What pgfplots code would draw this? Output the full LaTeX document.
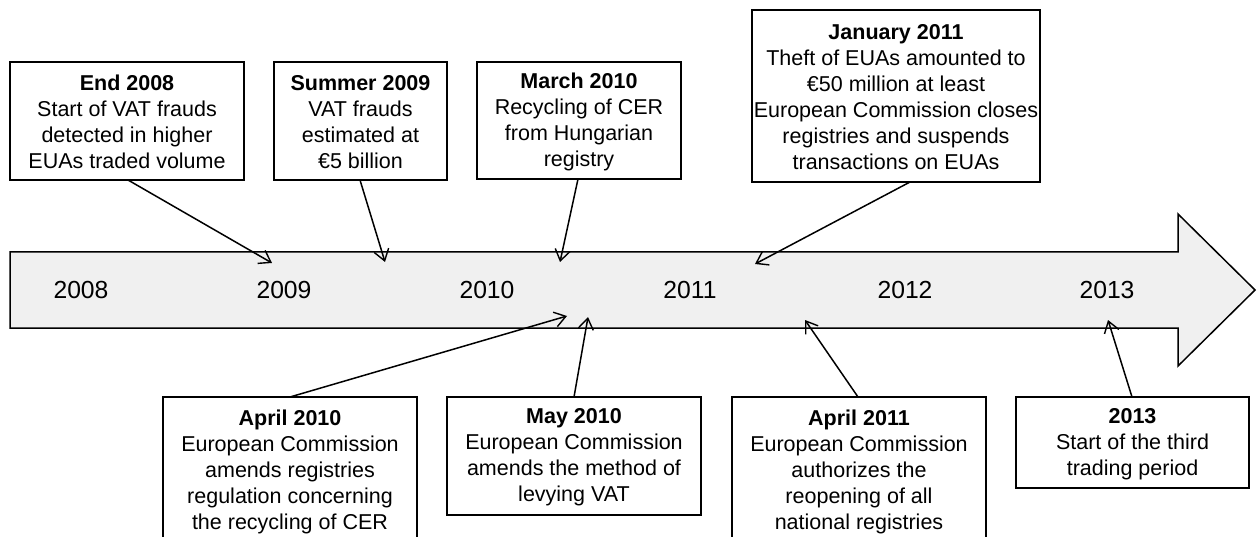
\documentclass[border=0pt]{standalone}
\usepackage{pgfplots}
\pgfplotsset{compat=1.18}
\usepackage{fontspec}
\setmainfont{Liberation Sans}
\usetikzlibrary{arrows.meta}
\definecolor{arrowfill}{HTML}{F0F0F0}
\begin{document}
\begin{tikzpicture}[
  boxtxt/.style={align=center, font=\fontsize{21.5}{26}\selectfont, inner sep=0pt},
  yeartxt/.style={font=\fontsize{24.7}{28}\selectfont, inner sep=0pt},
  ev/.style={black, line width=1.5pt, -{Straight Barb[length=11pt,width=15pt,line width=1.4pt]}},
  bx/.style={black, line width=1.4pt, fill=white, line join=miter},
]
\begin{axis}[
  scale only axis, width=1258pt, height=537pt,
  xmin=0, xmax=1258, ymin=0, ymax=537, y dir=reverse,
  hide axis, clip=false,
]
% big timeline arrow
\addplot[draw=black, line width=1.5pt, fill=arrowfill, line join=miter, miter limit=20] coordinates {
 (10,252) (1178,252) (1178,214) (1255,290) (1178,366) (1178,328) (10,328)} -- cycle;
% years
\node[yeartxt] at (axis cs:81,290) {2008};
\node[yeartxt] at (axis cs:284,290) {2009};
\node[yeartxt] at (axis cs:487,290) {2010};
\node[yeartxt] at (axis cs:690,290) {2011};
\node[yeartxt] at (axis cs:905,290) {2012};
\node[yeartxt] at (axis cs:1107,290) {2013};
% event arrows
\addplot[ev] coordinates {(128,180) (272,263)};
\addplot[ev] coordinates {(360,180) (385,262)};
\addplot[ev] coordinates {(578,179) (560,262)};
\addplot[ev] coordinates {(910,182) (755,264)};
\addplot[ev] coordinates {(290,397) (567,316)};
\addplot[ev] coordinates {(574,397) (588,317)};
\addplot[ev] coordinates {(858,397) (805,320)};
\addplot[ev] coordinates {(1132,397) (1108,320)};
% top boxes
\addplot[bx] coordinates {(10,62) (244,62) (244,180) (10,180)} -- cycle;
\addplot[bx] coordinates {(274,62) (447,62) (447,180) (274,180)} -- cycle;
\addplot[bx] coordinates {(477,62) (681,62) (681,179) (477,179)} -- cycle;
\addplot[bx] coordinates {(752,10) (1040,10) (1040,182) (752,182)} -- cycle;
% bottom boxes
\addplot[black, line width=1.4pt, line join=miter] coordinates {(163,537) (163,397) (417,397) (417,537)};
\addplot[bx] coordinates {(447,397) (701,397) (701,515) (447,515)} -- cycle;
\addplot[black, line width=1.4pt, line join=miter] coordinates {(732,537) (732,397) (986,397) (986,537)};
\addplot[bx] coordinates {(1016,397) (1249,397) (1249,488) (1016,488)} -- cycle;
% box texts
\node[boxtxt] at (axis cs:127,122) {\textbf{End 2008}\\Start of VAT frauds\\detected in higher\\EUAs traded volume};
\node[boxtxt] at (axis cs:360.5,122) {\textbf{Summer 2009}\\VAT frauds\\estimated at\\€5 billion};
\node[boxtxt] at (axis cs:579,122) {\textbf{March 2010}\\Recycling of CER\\from Hungarian\\registry};
\node[boxtxt] at (axis cs:896,97) {\textbf{January 2011}\\Theft of EUAs amounted to\\€50 million at least\\European Commission closes\\registries and suspends\\transactions on EUAs};
\node[boxtxt, anchor=north] at (axis cs:290,410) {\textbf{April 2010}\\European Commission\\amends registries\\regulation concerning\\the recycling of CER};
\node[boxtxt] at (axis cs:574,457) {\textbf{May 2010}\\European Commission\\amends the method of\\levying VAT};
\node[boxtxt, anchor=north] at (axis cs:859,410) {\textbf{April 2011}\\European Commission\\authorizes the\\reopening of all\\national registries};
\node[boxtxt] at (axis cs:1132.5,444) {\textbf{2013}\\Start of the third\\trading period};
\end{axis}
\pgfresetboundingbox
\useasboundingbox (0,0) rectangle (1258pt,537pt);
\end{tikzpicture}
\end{document}
